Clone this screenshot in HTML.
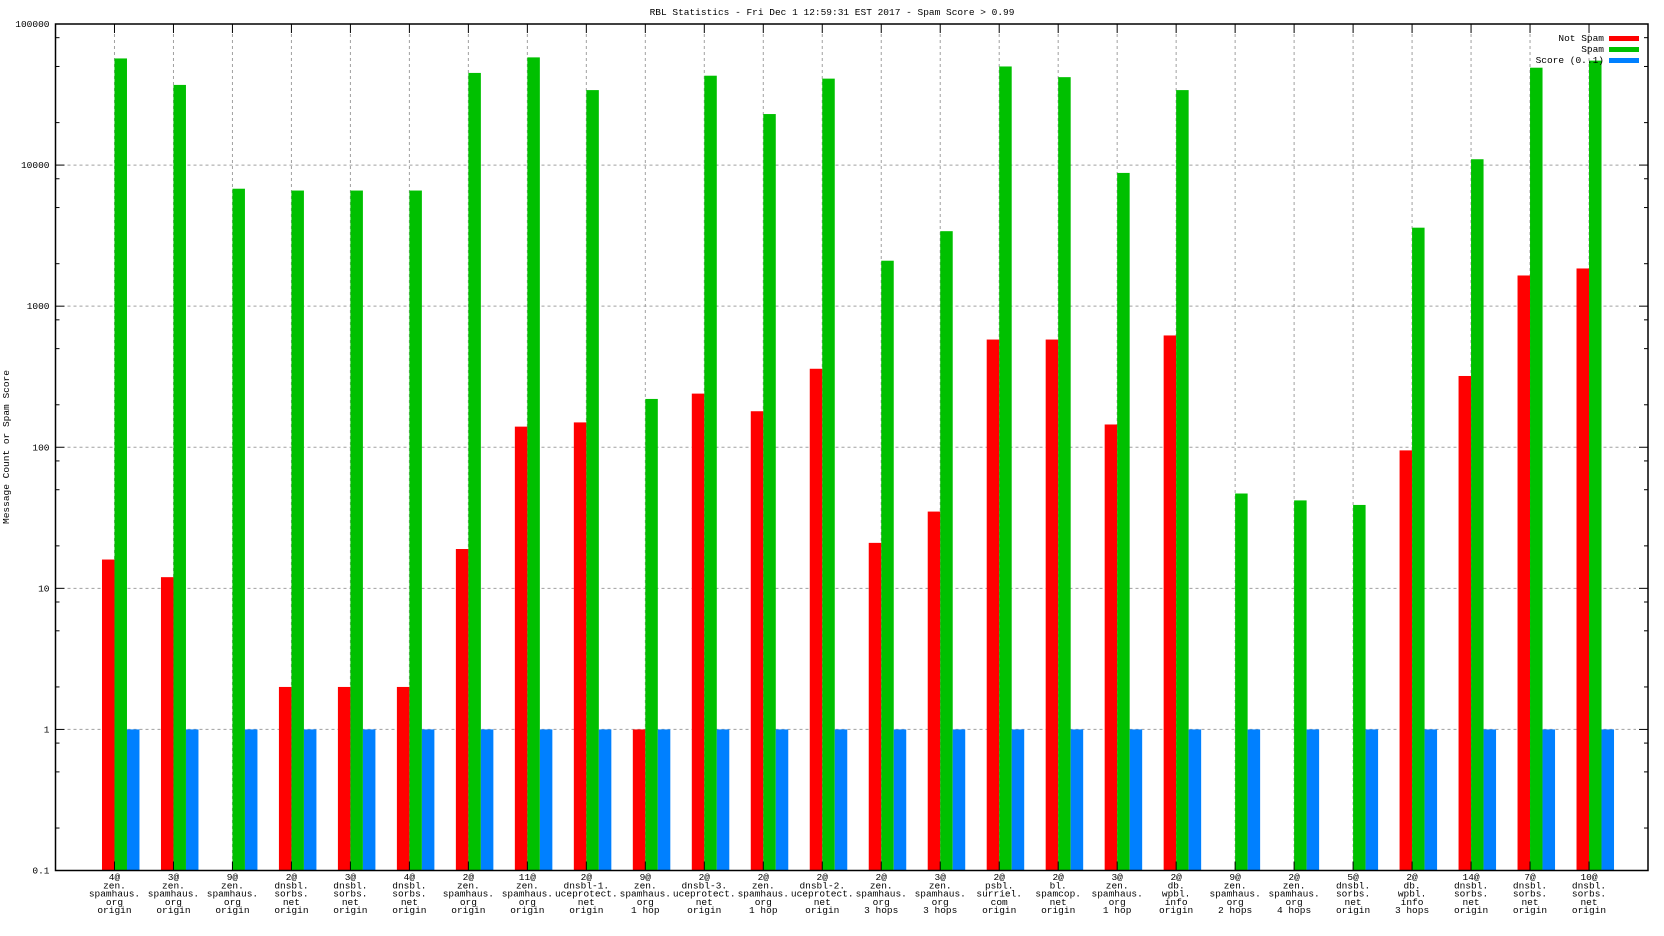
<!DOCTYPE html>
<html><head><meta charset="utf-8"><style>
body{margin:0;background:#fff}
svg{display:block}
text{font-family:"Liberation Mono",monospace;font-size:9.5px;fill:#000}
</style></head><body>
<svg id="chart" width="1664" height="936" xmlns="http://www.w3.org/2000/svg">
<rect width="1664" height="936" fill="#fff"/>
<text x="832" y="15" text-anchor="middle">RBL Statistics - Fri Dec  1 12:59:31 EST 2017 - Spam Score &gt; 0.99</text>
<text transform="translate(9,447) rotate(-90)" text-anchor="middle">Message Count or Spam Score</text>
<g id="grid"></g><g id="bars"></g><g id="axes"></g><g id="labels"></g>
<g>
<text x="1604" y="41" text-anchor="end">Not Spam</text>
<rect x="1609" y="36" width="30" height="5" fill="#ff0000"/>
<text x="1604" y="52" text-anchor="end">Spam</text>
<rect x="1609" y="47" width="30" height="5" fill="#00c000"/>
<text x="1604" y="63" text-anchor="end">Score (0..1)</text>
<rect x="1609" y="58" width="30" height="5" fill="#0080ff"/>
</g>
</svg>
<script>
const categories=["4@|zen.|spamhaus.|org|origin","3@|zen.|spamhaus.|org|origin","9@|zen.|spamhaus.|org|origin","2@|dnsbl.|sorbs.|net|origin","3@|dnsbl.|sorbs.|net|origin","4@|dnsbl.|sorbs.|net|origin","2@|zen.|spamhaus.|org|origin","11@|zen.|spamhaus.|org|origin","2@|dnsbl-1.|uceprotect.|net|origin","9@|zen.|spamhaus.|org|1 hop","2@|dnsbl-3.|uceprotect.|net|origin","2@|zen.|spamhaus.|org|1 hop","2@|dnsbl-2.|uceprotect.|net|origin","2@|zen.|spamhaus.|org|3 hops","3@|zen.|spamhaus.|org|3 hops","2@|psbl.|surriel.|com|origin","2@|bl.|spamcop.|net|origin","3@|zen.|spamhaus.|org|1 hop","2@|db.|wpbl.|info|origin","9@|zen.|spamhaus.|org|2 hops","2@|zen.|spamhaus.|org|4 hops","5@|dnsbl.|sorbs.|net|origin","2@|db.|wpbl.|info|3 hops","14@|dnsbl.|sorbs.|net|origin","7@|dnsbl.|sorbs.|net|origin","10@|dnsbl.|sorbs.|net|origin"];
const notSpam=[16,12,0,2,2,2,19,140,150,1,240,180,360,21,35,580,580,145,620,0,0,0,95,320,1650,1850];
const spam=[57000,37000,6800,6600,6600,6600,45000,58000,34000,220,43000,23000,41000,2100,3400,50000,42000,8800,34000,47,42,39,3600,11000,49000,55000];
const score=[1,1,1,1,1,1,1,1,1,1,1,1,1,1,1,1,1,1,1,1,1,1,1,1,1,1];
const yTicks=["0.1","1","10","100","1000","10000","100000"];
const NS="http://www.w3.org/2000/svg";
const L=55.5,R=1648,T=24,B=870.5,yMin=-1,yMax=5;
const step=(R-L)/(categories.length+1);
const xS=i=>L+(i+1)*step;
const yS=v=>B-(Math.log10(v)-yMin)/(yMax-yMin)*(B-T);
function mk(tag,attrs,parent){const e=document.createElementNS(NS,tag);for(const k in attrs)e.setAttribute(k,attrs[k]);document.getElementById(parent).appendChild(e);return e;}
// grid
yTicks.forEach((t,i)=>{const y=yS(parseFloat(t));
 if(i>0&&i<yTicks.length-1){const g=mk('line',{x1:L+12,x2:R-12,y1:y,y2:y,stroke:'#a0a0a0','stroke-dasharray':'3,3'},'grid');
 
 }
 const lb=mk('text',{x:L-6,y:y+3,'text-anchor':'end'},'labels');lb.textContent=t;
 
 
 mk('line',{x1:L,x2:L+9,y1:y,y2:y,stroke:'#000'},'axes');
 mk('line',{x1:R,x2:R-9,y1:y,y2:y,stroke:'#000'},'axes');
 if(i<yTicks.length-1){[2,5,8].forEach(m=>{const ym=yS(parseFloat(t)*m);
  mk('line',{x1:L,x2:L+4,y1:ym,y2:ym,stroke:'#000'},'axes');
  mk('line',{x1:R,x2:R-4,y1:ym,y2:ym,stroke:'#000'},'axes');});}
});
categories.forEach((c,i)=>{const x=xS(i);
 const g=mk('line',{x1:x,x2:x,y1:T+10,y2:B,stroke:'#a0a0a0','stroke-dasharray':'3,3'},'grid');
 
 
 mk('line',{x1:x,x2:x,y1:T,y2:T+9,stroke:'#000'},'axes');
 mk('line',{x1:x,x2:x,y1:B,y2:B-9,stroke:'#000'},'axes');
 const lines=c.split('|');
 const tx=mk('text',{x:x,y:880,'text-anchor':'middle'},'labels');
 
 
 lines.forEach((l,j)=>{const ts=document.createElementNS(NS,'tspan');ts.setAttribute('x',x);ts.setAttribute('y',880+j*8.3);ts.textContent=l;tx.appendChild(ts);});
 const series=[[notSpam,'#ff0000',-12.5,'bar-not-spam'],[spam,'#00c000',0,'bar-spam'],[score,'#0080ff',12.5,'bar-score']];
 series.forEach(s=>{const v=s[0][i];if(v>0){const y=yS(v);
  const r=mk('rect',{x:x+s[2],y:y,width:12.5,height:B-y,fill:s[1]},'bars');
  
  }});
});
mk('rect',{x:L,y:T,width:R-L,height:B-T,fill:'none',stroke:'#000','stroke-width':1.5},'axes');
</script>
</body></html>
